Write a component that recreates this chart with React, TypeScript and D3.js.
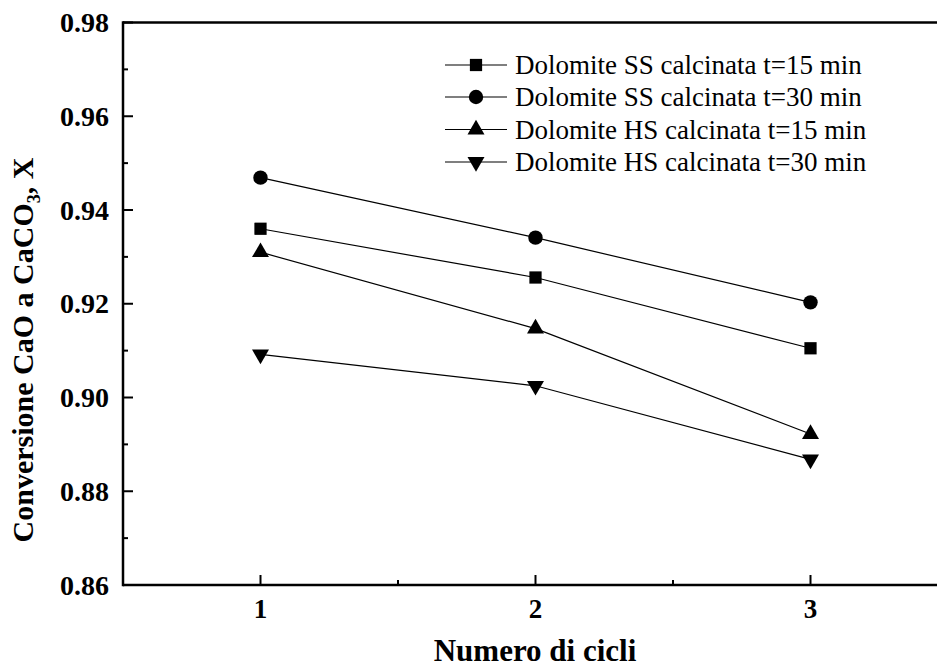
import React from "react";
import * as d3 from "d3";

const cycles = [1, 2, 3];
const seriesNames = [
  "Dolomite SS calcinata t=15 min",
  "Dolomite SS calcinata t=30 min",
  "Dolomite HS calcinata t=15 min",
  "Dolomite HS calcinata t=30 min",
];
const ss15 = [0.936, 0.9256, 0.9105];
const ss30 = [0.9469, 0.9341, 0.9203];
const hs15 = [0.931, 0.9147, 0.8922];
const hs30 = [0.9092, 0.9025, 0.8868];
const yTicks = [0.86, 0.88, 0.9, 0.92, 0.94, 0.96, 0.98];
const yMinor = [0.87, 0.89, 0.91, 0.93, 0.95, 0.97];
const xTicks = [1, 2, 3];
const xMinor = [1.5, 2.5];

const W = 937;
const H = 670;
const L = 123;
const T = 22.5;
const B = 585;
const R = 948;

const FONT = "Liberation Serif, Times New Roman, Times, serif";

function Marker({ kind, x, y }: { kind: string; x: number; y: number }) {
  if (kind === "square") {
    const s = d3.symbol(d3.symbolSquare, 150)();
    return <path d={s as string} transform={`translate(${x},${y})`} fill="#000" />;
  }
  if (kind === "circle") {
    return <circle cx={x} cy={y} r={7.2} fill="#000" />;
  }
  const tri = d3.symbol(d3.symbolTriangle, 125)();
  if (kind === "up") {
    return <path d={tri as string} transform={`translate(${x},${y})`} fill="#000" />;
  }
  return <path d={tri as string} transform={`translate(${x},${y}) rotate(180)`} fill="#000" />;
}

export default function App() {
  const x = d3.scaleLinear().domain([0.5, 3.5]).range([L, R]);
  const y = d3.scaleLinear().domain([0.86, 0.98]).range([B, T]);
  const series = [
    { name: seriesNames[0], vals: ss15, kind: "square" },
    { name: seriesNames[1], vals: ss30, kind: "circle" },
    { name: seriesNames[2], vals: hs15, kind: "up" },
    { name: seriesNames[3], vals: hs30, kind: "down" },
  ];
  const line = d3
    .line<number>()
    .x((_, i) => x(cycles[i]))
    .y((d) => y(d));

  const legendY = [65, 97, 129.5, 162];
  const ts = { fontFamily: FONT };

  return (
    <svg
      width={W}
      height={H}
      style={{ position: "absolute", left: 0, top: 0, background: "#fff", fontFamily: FONT }}
    >
      <rect x={0} y={0} width={W} height={H} fill="#fff" />
      {series.map((s) => (
        <g key={s.name}>
          <path d={line(s.vals) as string} fill="none" stroke="#000" strokeWidth={1.2} />
          {s.vals.map((v, i) => (
            <Marker key={i} kind={s.kind} x={x(cycles[i])} y={y(v)} />
          ))}
        </g>
      ))}
      <line x1={L} x2={W} y1={T} y2={T} stroke="#000" strokeWidth={2.5} />
      <line x1={L} x2={W} y1={B} y2={B} stroke="#000" strokeWidth={2.5} />
      <line x1={L} x2={L} y1={T - 1.25} y2={B + 1.25} stroke="#000" strokeWidth={2.5} />
      {yTicks.map((t) => (
        <g key={"y" + t}>
          <line x1={L} x2={L + 10} y1={y(t)} y2={y(t)} stroke="#000" strokeWidth={2} />
          <text
            x={L - 14}
            y={y(t) + 9.5}
            textAnchor="end"
            fontSize={28}
            fontWeight="bold"
            style={ts}
          >
            {t.toFixed(2)}
          </text>
        </g>
      ))}
      {yMinor.map((t) => (
        <line key={"ym" + t} x1={L} x2={L + 5} y1={y(t)} y2={y(t)} stroke="#000" strokeWidth={2} />
      ))}
      {xTicks.map((t) => (
        <g key={"x" + t}>
          <line x1={x(t)} x2={x(t)} y1={B} y2={B - 10} stroke="#000" strokeWidth={2} />
          <text x={x(t)} y={618} textAnchor="middle" fontSize={27} fontWeight="bold" style={ts}>
            {t}
          </text>
        </g>
      ))}
      {xMinor.map((t) => (
        <line key={"xm" + t} x1={x(t)} x2={x(t)} y1={B} y2={B - 5} stroke="#000" strokeWidth={2} />
      ))}
      <text x={535} y={661} textAnchor="middle" fontSize={31} fontWeight="bold" style={ts}>
        Numero di cicli
      </text>
      <text
        transform={`translate(33, 350) rotate(-90)`}
        textAnchor="middle"
        fontSize={30}
        fontWeight="bold"
        style={ts}
      >
        Conversione CaO a CaCO
        <tspan fontSize={18} dy={7}>3</tspan>
        <tspan dy={-7}>, X</tspan>
      </text>
      {series.map((s, i) => (
        <g key={"lg" + i}>
          <line x1={445} x2={507} y1={legendY[i]} y2={legendY[i]} stroke="#000" strokeWidth={1.2} />
          <Marker kind={s.kind} x={476} y={legendY[i]} />
          <text x={515} y={legendY[i] + 9} fontSize={27} style={ts}>
            {s.name}
          </text>
        </g>
      ))}
    </svg>
  );
}
